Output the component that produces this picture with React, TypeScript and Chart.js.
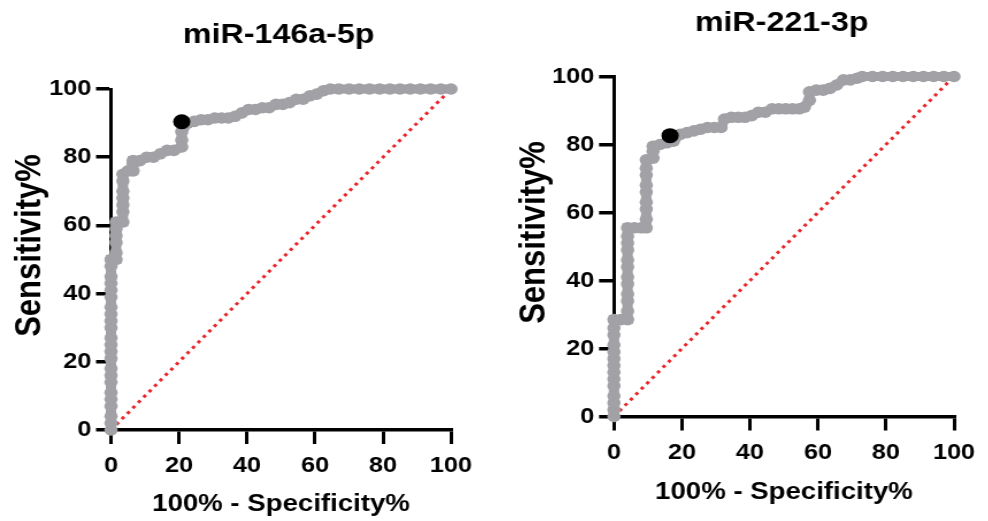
import React, { useEffect, useRef } from 'react';
import { Chart, registerables } from 'chart.js';

Chart.register(...registerables);

const FONT = "'Liberation Sans', Arial, Helvetica, sans-serif";
const STRETCH = 1.15;

// ---------- data ----------
const panelTitles = ['miR-146a-5p', 'miR-221-3p'];
const xAxisTitle = '100% - Specificity%';
const yAxisTitle = 'Sensitivity%';
const tickValues = [0, 20, 40, 60, 80, 100];

const chanceX = [0, 100];
const chanceY = [0, 100];

// miR-146a-5p ROC (100% - specificity, sensitivity)
const mir146aX = [
  0, 0, 0, 0, 0, 0, 0, 0, 0, 0, 0, 0, 0, 0, 0, 0, 0, 0, 0, 0, 0, 0, 0,
  1.5, 1.5, 1.5, 1.5, 1.5, 1.5,
  3.5, 3.5, 3.5, 3.5, 3.5, 3.5, 3.5,
  5, 6.5, 6.5, 6.5, 8.5, 10.5, 12.5, 14.5, 16.5, 18.5,
  20.8, 20.8, 20.8,
  22.5, 24.5, 26.5, 28.5, 30.5, 32.5, 34.5, 36.5, 38.5, 40.5, 42.5, 44.5, 46.5, 48.5, 50.5,
  52.5, 54.5, 56.5, 58.5, 60.5, 62.5, 64.5, 67, 70, 73, 76, 79, 82, 85, 88, 91, 94, 97, 100,
];
const mir146aY = [
  0, 2, 4, 7, 9, 11, 14, 16, 18, 21, 23, 25, 27, 30, 32, 34, 36, 39, 41, 43, 45, 48, 50,
  50, 52, 55, 57, 59, 61,
  61, 64, 66, 68, 70, 73, 75,
  76, 76, 78, 79, 79, 80, 80, 81, 82, 82,
  83, 85, 87.5,
  90, 90.5, 91, 91, 91.5, 91.5, 91.5, 92, 93, 94, 94, 94.5, 94.5, 95.5, 95.5,
  96, 97, 97, 98, 98.5, 99.5, 100, 100, 100, 100, 100, 100, 100, 100, 100, 100, 100, 100, 100,
];
const mir146aCutoffX = [20.8];
const mir146aCutoffY = [90.4];

// miR-221-3p ROC (100% - specificity, sensitivity)
const mir221X = [
  0, 0, 0, 0, 0, 0, 0, 0, 0, 0, 0, 0, 0, 0,
  2, 4, 4, 4, 4, 4, 4, 4, 4, 4, 4, 4, 4,
  6, 8, 9.5, 9.5, 9.5, 9.5, 9.5, 9.5, 9.5, 9.5, 9.5,
  11.5, 11.5, 11.5, 13.5, 15.5, 17.5, 19.5, 21.5, 23.5, 25.5, 27.5, 29.5, 31.5,
  32.5, 34.5, 36.5, 38.5, 40.5, 42.5, 44.5, 46.5, 48.5, 50.5, 52.5, 54.5, 56,
  57.5, 57.5, 59.5, 61.5, 63.5, 65.5, 67.5, 69.5, 71.5, 73, 76, 79, 82, 85, 88, 91, 94, 97, 100,
];
const mir221Y = [
  0, 2, 4, 6, 9, 11, 13, 15, 17, 19, 21, 24, 26, 28.5,
  28.5, 28.5, 31, 34, 36, 39, 41, 44, 46, 49, 51, 53, 55.5,
  55.5, 55.5, 55.5, 58, 61, 63, 66, 68, 71, 73, 75.5,
  76, 78, 79.5, 80, 80.5, 81, 83, 83.5, 84, 84.5, 85, 85, 85,
  87.5, 88, 88, 88, 88.5, 89.5, 89.5, 90.5, 90.5, 90.5, 90.5, 90.5, 91,
  93, 95.5, 96, 96, 96.5, 97.5, 99, 99, 99.5, 100, 100, 100, 100, 100, 100, 100, 100, 100, 100,
];
const mir221CutoffX = [16.5];
const mir221CutoffY = [82.6];

// ---------- helpers ----------
const toPoints = (xs: number[], ys: number[]) => xs.map((x, i) => ({ x, y: ys[i] }));

type PanelLayout = {
  left: number;
  width: number;
  height: number;
  areaLeft: number;
  areaRight: number;
  areaTop: number;
  areaBottom: number;
  titleY: number;
  yTitleX: number;
  yTitleShift: number;
  xTitleY: number;
};

const layouts: PanelLayout[] = [
  { left: 0, width: 430, height: 521, areaLeft: 96.5, areaRight: 392.2, areaTop: 89, areaBottom: 430, titleY: 35, yTitleX: 26, yTitleShift: -14, xTitleY: 504 },
  { left: 494, width: 430, height: 521, areaLeft: 104.3, areaRight: 400, areaTop: 76.5, areaBottom: 416.5, titleY: 23, yTitleX: 35.7, yTitleShift: -14, xTitleY: 492 },
];

const panelTextPlugin = {
  id: 'panelText',
  afterDraw(chart: any, _args: any, opts: any) {
    const { ctx, chartArea } = chart;
    ctx.save();
    ctx.fillStyle = '#000';
    ctx.textAlign = 'center';
    ctx.textBaseline = 'middle';
    // panel title
    ctx.font = `bold ${opts.titleSize}px ${FONT}`;
    ctx.fillText(opts.title, (chartArea.left + chartArea.right) / 2 + (opts.dx || 0), opts.titleY);
    // rotated y-axis title
    ctx.font = `bold ${opts.yTitleSize}px ${FONT}`;
    ctx.translate(opts.yTitleX, (chartArea.top + chartArea.bottom) / 2 + opts.yTitleShift);
    ctx.rotate(-Math.PI / 2);
    ctx.fillText(opts.yTitle, 0, 0);
    ctx.restore();
  },
};

function RocPanel(props: {
  layout: PanelLayout;
  title: string;
  xs: number[];
  ys: number[];
  cx: number[];
  cy: number[];
}) {
  const ref = useRef<HTMLCanvasElement | null>(null);
  const { layout, title, xs, ys, cx, cy } = props;

  useEffect(() => {
    if (!ref.current) return;
    const axisTitleSize = 24;
    const lh = axisTitleSize * 1.2;
    const chart = new Chart(ref.current, {
      type: 'scatter',
      data: {
        datasets: [
          {
            label: 'Cutoff',
            data: toPoints(cx, cy),
            showLine: false,
            pointRadius: 7.5,
            pointBorderWidth: 0,
            pointBackgroundColor: '#000000',
            backgroundColor: '#000000',
            clip: false,
          } as any,
          {
            label: 'ROC',
            data: toPoints(xs, ys),
            showLine: true,
            borderColor: '#a1a1a6',
            backgroundColor: '#a1a1a6',
            borderWidth: 9,
            pointRadius: 5.8,
            pointBorderWidth: 0,
            pointBackgroundColor: '#a1a1a6',
            clip: false,
          } as any,
          {
            label: 'Chance',
            data: toPoints(chanceX, chanceY),
            showLine: true,
            borderColor: '#e8262a',
            borderWidth: 3,
            borderDash: [3, 4.2],
            pointRadius: 0,
            clip: false,
          } as any,
        ],
      },
      options: {
        responsive: false,
        animation: false,
        events: [],
        layout: {
          padding: {
            left: 0,
            top: layout.areaTop,
            right: layout.width - layout.areaRight,
            bottom: 0,
          },
        },
        plugins: {
          legend: { display: false },
          tooltip: { enabled: false },
          title: { display: false },
          panelText: {
            title,
            titleY: layout.titleY,
            titleSize: 28,
            dx: -2,
            yTitle: yAxisTitle,
            yTitleSize: 31,
            yTitleX: layout.yTitleX,
            yTitleShift: layout.yTitleShift,
          },
        } as any,
        scales: {
          x: {
            type: 'linear',
            min: 0,
            max: 100,
            afterBuildTicks: (s: any) => {
              s.ticks = tickValues.map((v) => ({ value: v }));
            },
            afterFit: (s: any) => {
              s.height = layout.height - layout.areaBottom;
            },
            border: { display: true, color: '#000', width: 3.5 },
            grid: { display: true, drawOnChartArea: false, drawTicks: true, tickLength: 14, color: '#000', lineWidth: 3 },
            ticks: {
              color: '#000',
              padding: 9,
              maxRotation: 0,
              font: { family: FONT, size: 22, weight: 'bold' },
              callback: (v: any) => String(v),
            },
            title: {
              display: true,
              text: xAxisTitle,
              color: '#000',
              font: { family: FONT, size: axisTitleSize, weight: 'bold' },
              padding: { top: 0, bottom: layout.height - layout.xTitleY - lh / 2 },
            },
          },
          y: {
            type: 'linear',
            min: 0,
            max: 100,
            afterBuildTicks: (s: any) => {
              s.ticks = tickValues.map((v) => ({ value: v }));
            },
            afterFit: (s: any) => {
              s.width = layout.areaLeft;
            },
            border: { display: true, color: '#000', width: 3 },
            grid: { display: true, drawOnChartArea: false, drawTicks: true, tickLength: 13, color: '#000', lineWidth: 3.5 },
            ticks: {
              color: '#000',
              padding: 4,
              font: { family: FONT, size: 22, weight: 'bold' },
              callback: (v: any) => String(v),
            },
            title: { display: false },
          },
        },
      },
      plugins: [panelTextPlugin as any],
    });
    return () => chart.destroy();
  }, [layout, title, xs, ys, cx, cy]);

  return (
    <div
      style={{
        position: 'absolute',
        left: layout.left,
        top: 0,
        width: layout.width,
        height: layout.height,
        transform: `scaleX(${STRETCH})`,
        transformOrigin: '0 0',
      }}
    >
      <canvas
        ref={ref}
        width={layout.width}
        height={layout.height}
        style={{ display: 'block', width: layout.width, height: layout.height }}
      />
    </div>
  );
}

export default function App() {
  return (
    <div
      style={{
        position: 'absolute',
        left: 0,
        top: 0,
        width: 988,
        height: 521,
        overflow: 'hidden',
        background: '#ffffff',
      }}
    >
      <RocPanel layout={layouts[0]} title={panelTitles[0]} xs={mir146aX} ys={mir146aY} cx={mir146aCutoffX} cy={mir146aCutoffY} />
      <RocPanel layout={layouts[1]} title={panelTitles[1]} xs={mir221X} ys={mir221Y} cx={mir221CutoffX} cy={mir221CutoffY} />
    </div>
  );
}
